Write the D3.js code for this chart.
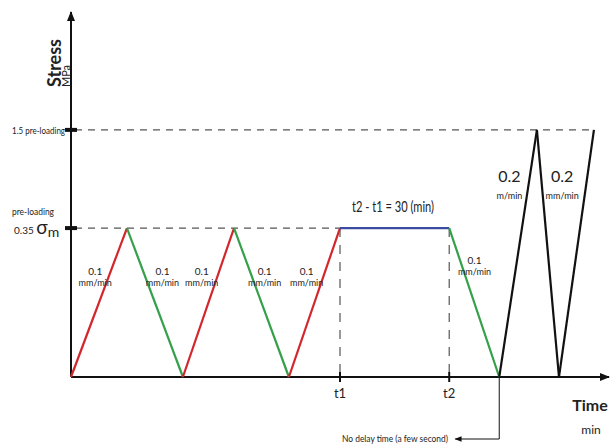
<!DOCTYPE html>
<html>
<head>
<meta charset="utf-8">
<script src="https://cdn.jsdelivr.net/npm/d3@7"></script>
<style>
body { margin:0; background:#fff; }
text { font-family: Lato, Roboto, sans-serif; fill:#222; }
</style>
</head>
<body>
<svg class="chart" width="611" height="444"></svg>
<script>
// loading path (time in relative units, stress in relative units)
var times = [0, 10.4, 20.8, 30.3, 40.5, 50, 70.3, 79.6, 86.6, 90.7, 97.2];
var stress = [0, 40.8, 0, 40.8, 0, 40.8, 40.8, 0, 67.7, 0, 67.7];
var segColors = ["#d3262c", "#35a04a", "#d3262c", "#35a04a", "#d3262c", "#3b4da0", "#35a04a", "#111", "#111", "#111"];

var levels = [40.8, 67.7];
var levelEnds = [50, 97.2];
var tickTimes = [50, 70.3];
var tickLabels = ["t1", "t2"];

var rateLabels = [
	{t: 4.5, s: 28, top: "0.1", bot: "mm/min"},
	{t: 17, s: 28, top: "0.1", bot: "mm/min"},
	{t: 24.3, s: 28, top: "0.1", bot: "mm/min"},
	{t: 36, s: 28, top: "0.1", bot: "mm/min"},
	{t: 43.8, s: 28, top: "0.1", bot: "mm/min"},
	{t: 75, s: 31, top: "0.1", bot: "mm/min"},
	{t: 81.5, s: 53, top: "0.2", bot: "m/min"},
	{t: 91.3, s: 53, top: "0.2", bot: "mm/min"}
];

var margin = {left:71, right:2, top:12, bottom:67};
var width = 611, height = 444;

var x = d3.scaleLinear().domain([0, 100]).range([margin.left, width - margin.right]);
var y = d3.scaleLinear().domain([0, 100]).range([height - margin.bottom, margin.top]);

var chart = d3.select(".chart");
var defs = chart.append("defs");
defs.append("marker")
	.attr("id", "arr")
	.attr("viewBox", "0 0 10 10")
	.attr("refX", 9).attr("refY", 5)
	.attr("markerWidth", 10).attr("markerHeight", 10)
	.attr("markerUnits", "userSpaceOnUse")
	.attr("orient", "auto")
	.append("path").attr("d", "M0,1 L10,5 L0,9 Z").attr("fill", "#111");
defs.append("marker")
	.attr("id", "arrs")
	.attr("viewBox", "0 0 10 10")
	.attr("refX", 9).attr("refY", 5)
	.attr("markerWidth", 9).attr("markerHeight", 7)
	.attr("markerUnits", "userSpaceOnUse")
	.attr("orient", "auto")
	.append("path").attr("d", "M0,1 L10,5 L0,9 Z").attr("fill", "#111");

// dashed guide lines
chart.selectAll(".lvl").data(levels).enter().append("line")
	.attr("x1", x(0) + 4).attr("x2", function(d, i) { return x(levelEnds[i]); })
	.attr("y1", function(d) { return y(d); }).attr("y2", function(d) { return y(d); })
	.attr("stroke", "#555").attr("stroke-width", 1.2).attr("stroke-dasharray", "7,6");

chart.selectAll(".vd").data(tickTimes).enter().append("line")
	.attr("x1", function(d) { return x(d); }).attr("x2", function(d) { return x(d); })
	.attr("y1", y(levels[0])).attr("y2", y(0))
	.attr("stroke", "#555").attr("stroke-width", 1.2).attr("stroke-dasharray", "9,8");

// axes
chart.append("line").attr("x1", x(0)).attr("x2", x(0))
	.attr("y1", y(0)).attr("y2", y(100))
	.attr("stroke", "#111").attr("stroke-width", 2).attr("marker-end", "url(#arr)");
chart.append("line").attr("x1", x(0)).attr("x2", x(100))
	.attr("y1", y(0)).attr("y2", y(0))
	.attr("stroke", "#111").attr("stroke-width", 2).attr("marker-end", "url(#arr)");

chart.selectAll(".ytick").data(levels).enter().append("line")
	.attr("x1", x(0) - 6).attr("x2", x(0) + 6)
	.attr("y1", function(d) { return y(d); }).attr("y2", function(d) { return y(d); })
	.attr("stroke", "#111").attr("stroke-width", 4);

chart.selectAll(".xtick").data(tickTimes).enter().append("line")
	.attr("x1", function(d) { return x(d); }).attr("x2", function(d) { return x(d); })
	.attr("y1", y(0) - 5).attr("y2", y(0) + 5)
	.attr("stroke", "#111").attr("stroke-width", 2);

chart.selectAll(".xlab").data(tickTimes).enter().append("text")
	.attr("x", function(d) { return x(d); })
	.attr("y", y(0) + 21)
	.style("text-anchor", "middle").style("font-size", "13px")
	.text(function(d, i) { return tickLabels[i]; });

// loading path segments
var segs = d3.range(times.length - 1);
chart.selectAll(".seg").data(segs).enter().append("line")
	.attr("x1", function(i) { return x(times[i]); })
	.attr("y1", function(i) { return y(stress[i]); })
	.attr("x2", function(i) { return x(times[i + 1]); })
	.attr("y2", function(i) { return y(stress[i + 1]); })
	.attr("stroke", function(i) { return segColors[i]; })
	.attr("stroke-width", 2.2);

// rate labels
var rl = chart.selectAll(".rl").data(rateLabels).enter().append("g")
	.attr("transform", function(d) { return "translate(" + x(d.t) + "," + y(d.s) + ")"; });
rl.append("text")
	.style("text-anchor", "middle")
	.style("font-size", function(d) { return d.top == "0.2" ? "16px" : "10px"; })
	.attr("y", function(d) { return d.top == "0.2" ? -2 : 0; })
	.text(function(d) { return d.top; });
rl.append("text")
	.style("text-anchor", "middle").style("font-size", "9px")
	.attr("y", function(d) { return d.top == "0.2" ? 15 : 11; })
	.text(function(d) { return d.bot; });

// annotations
chart.append("text").attr("x", 352).attr("y", y(45.3))
	.attr("textLength", 82).attr("lengthAdjust", "spacingAndGlyphs")
	.style("font-size", "16px")
	.text("t2 - t1 = 30 (min)");

chart.append("text").attr("x", 12).attr("y", y(levels[1]) + 4)
	.attr("textLength", 53).attr("lengthAdjust", "spacingAndGlyphs")
	.style("font-size", "10px").text("1.5 pre-loading");
chart.append("text").attr("x", 12).attr("y", y(levels[0]) - 13)
	.attr("textLength", 42).attr("lengthAdjust", "spacingAndGlyphs")
	.style("font-size", "10px").text("pre-loading");
var sig = chart.append("text").attr("x", 14).attr("y", y(levels[0]) + 6)
	.style("font-size", "10px");
sig.append("tspan").text("0.35 ");
sig.append("tspan").style("font-size", "19px").text("σ");
sig.append("tspan").style("font-size", "14px").attr("dy", 3).text("m");

chart.append("text")
	.attr("transform", "translate(61,63) rotate(-90)")
	.style("text-anchor", "middle").style("font-size", "18px").style("font-weight", "bold")
	.text("Stress");
chart.append("text")
	.attr("transform", "translate(70,76) rotate(-90)")
	.style("text-anchor", "middle").style("font-size", "11px")
	.text("MPa");

chart.append("text").attr("x", 590).attr("y", 411)
	.style("text-anchor", "middle")
	.style("font-size", "16px").style("font-weight", "bold")
	.text("Time");
chart.append("text").attr("x", 591).attr("y", 434)
	.style("text-anchor", "middle").style("font-size", "12px")
	.text("min");

// no delay pointer
chart.append("path")
	.attr("d", "M" + x(times[7]) + "," + y(0) + " V439 H" + (x(times[7]) - 44))
	.attr("fill", "none").attr("stroke", "#111").attr("stroke-width", 1)
	.attr("marker-end", "url(#arrs)");
chart.append("text").attr("x", 342).attr("y", 442)
	.attr("textLength", 106).attr("lengthAdjust", "spacingAndGlyphs")
	.style("font-size", "9.5px").text("No delay time (a few second)");
</script>
</body>
</html>
